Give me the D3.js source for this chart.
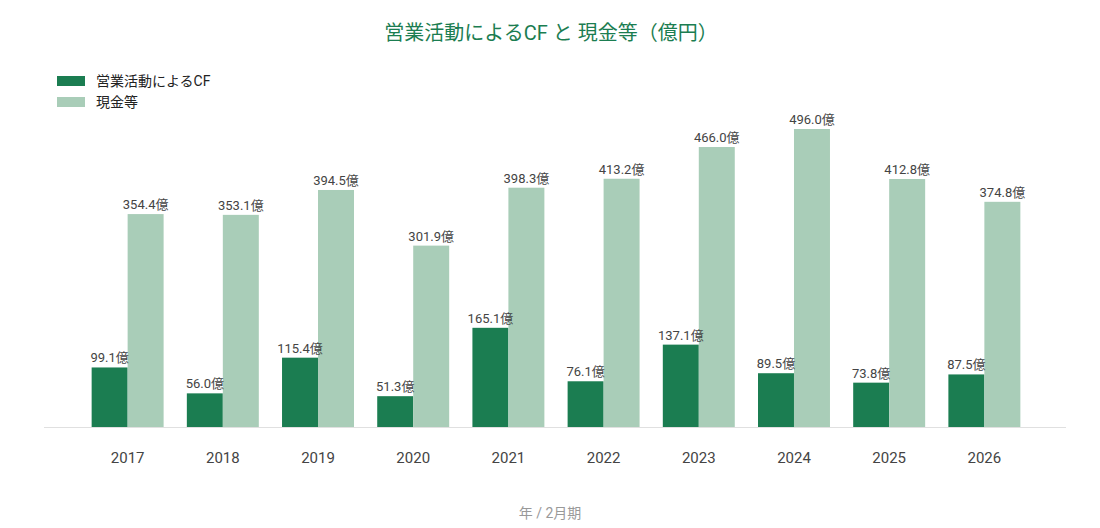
<!DOCTYPE html>
<html>
<head>
<meta charset="utf-8">
<script src="https://cdn.jsdelivr.net/npm/d3@7"></script>
<style>
  body { margin: 0; background: #fff; font-family: Roboto, "Noto Sans CJK JP", sans-serif; }
</style>
</head>
<body>
<div class="chart__container"></div>
<script>
const years = ["2017", "2018", "2019", "2020", "2021", "2022", "2023", "2024", "2025", "2026"];
const operatingCF = [99.1, 56.0, 115.4, 51.3, 165.1, 76.1, 137.1, 89.5, 73.8, 87.5];
const cash = [354.4, 353.1, 394.5, 301.9, 398.3, 413.2, 466.0, 496.0, 412.8, 374.8];
const seriesNames = ["営業活動によるCF", "現金等"];
const colors = ["#1b7d51", "#a9cdb8"];

const width = 1100, height = 528;
const font = 'Roboto, "Noto Sans CJK JP", sans-serif';

const svg = d3.select(".chart__container")
  .append("svg")
  .attr("width", width)
  .attr("height", height)
  .style("font-family", font);

// title
svg.append("text")
  .attr("x", 551)
  .attr("y", 40)
  .attr("text-anchor", "middle")
  .attr("fill", "#1b7d51")
  .style("font-size", "20px")
  .text("営業活動によるCF と 現金等（億円）");

// legend
const legend = svg.append("g");
seriesNames.forEach((name, i) => {
  legend.append("rect")
    .attr("x", 57).attr("y", 76 + i * 21)
    .attr("width", 28).attr("height", 10)
    .attr("fill", colors[i]);
  legend.append("text")
    .attr("x", 96).attr("y", 86 + i * 21)
    .attr("fill", "#222")
    .style("font-size", "14px")
    .text(name);
});

const x = d3.scaleBand()
  .domain(years)
  .range([45, 1067])
  .paddingInner(0.244)
  .paddingOuter(0.49);

const xSub = d3.scaleBand()
  .domain([0, 1])
  .range([0, x.bandwidth()]);

const y = d3.scaleLinear().domain([0, 496]).range([427, 129]);

// axis
const xAxis = svg.append("g")
  .attr("transform", "translate(0,427)")
  .call(d3.axisBottom(x).tickSize(0).tickPadding(25));
xAxis.select(".domain").attr("stroke", "#e0e0e0").attr("d", "M44,0.5H1066");
xAxis.selectAll("text")
  .attr("fill", "#444")
  .style("font-size", "15px")
  .style("font-family", font);

const rows = years.map((yr, i) => ({ year: yr, values: [operatingCF[i], cash[i]] }));

const groups = svg.append("g")
  .selectAll("g")
  .data(rows)
  .enter()
  .append("g")
  .attr("transform", (d) => `translate(${x(d.year)},0)`);

groups.selectAll("rect")
  .data((d) => d.values)
  .enter()
  .append("rect")
  .attr("x", (d, i) => xSub(i))
  .attr("y", (d) => y(d))
  .attr("width", xSub.bandwidth())
  .attr("height", (d) => y(0) - y(d))
  .attr("fill", (d, i) => colors[i]);

groups.selectAll("text")
  .data((d) => d.values)
  .enter()
  .append("text")
  .attr("x", (d, i) => xSub(i) + xSub.bandwidth() / 2)
  .attr("y", (d) => y(d) - 5)
  .attr("text-anchor", "middle")
  .attr("fill", "#444")
  .style("font-size", "13px")
  .text((d) => d.toFixed(1) + "億");

// x axis title
svg.append("text")
  .attr("x", 550)
  .attr("y", 518)
  .attr("text-anchor", "middle")
  .attr("fill", "#999")
  .style("font-size", "14px")
  .text("年 / 2月期");
</script>
</body>
</html>
